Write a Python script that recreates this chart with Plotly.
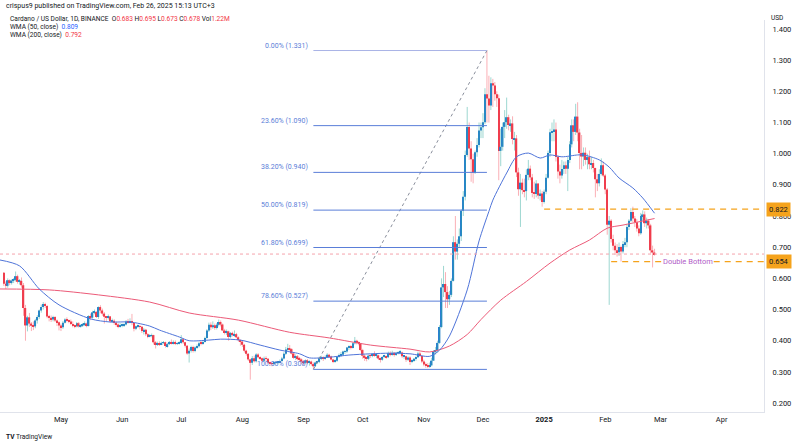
import pandas as pd
import plotly.graph_objects as go

# ADA/USD daily candles (Binance), 2 Apr 2024 -> 26 Feb 2025
FIRST_OPEN = 0.618

close_apr = [0.583, 0.576, 0.594, 0.585, 0.593, 0.595, 0.607, 0.589, 0.592, 0.578, 0.505, 0.449, 0.475, 0.455, 0.448,
             0.446, 0.465, 0.476, 0.497, 0.508, 0.518, 0.511, 0.478, 0.474, 0.468, 0.476, 0.465, 0.459, 0.449]
high_apr = [0.620, 0.590, 0.600, 0.597, 0.597, 0.601, 0.622, 0.612, 0.598, 0.603, 0.585, 0.515, 0.480, 0.489, 0.460,
            0.462, 0.470, 0.482, 0.500, 0.516, 0.524, 0.522, 0.515, 0.483, 0.481, 0.480, 0.479, 0.468, 0.462]
low_apr = [0.576, 0.566, 0.570, 0.578, 0.580, 0.585, 0.590, 0.583, 0.580, 0.570, 0.480, 0.400, 0.430, 0.444, 0.431,
           0.434, 0.440, 0.455, 0.470, 0.490, 0.500, 0.505, 0.472, 0.462, 0.460, 0.462, 0.460, 0.447, 0.433]

close_may = [0.443, 0.458, 0.468, 0.465, 0.462, 0.454, 0.448, 0.446, 0.456, 0.446, 0.448, 0.452, 0.455, 0.447, 0.479,
             0.474, 0.491, 0.492, 0.476, 0.508, 0.497, 0.487, 0.477, 0.473, 0.478, 0.462, 0.464, 0.458, 0.452, 0.447, 0.449]
high_may = [0.455, 0.463, 0.472, 0.475, 0.468, 0.468, 0.462, 0.452, 0.460, 0.460, 0.453, 0.457, 0.462, 0.458, 0.482,
            0.487, 0.496, 0.500, 0.495, 0.510, 0.514, 0.503, 0.492, 0.478, 0.484, 0.479, 0.471, 0.469, 0.462, 0.456, 0.456]
low_may = [0.431, 0.438, 0.455, 0.459, 0.456, 0.450, 0.443, 0.440, 0.443, 0.442, 0.442, 0.444, 0.447, 0.443, 0.446,
           0.466, 0.471, 0.485, 0.473, 0.470, 0.488, 0.480, 0.455, 0.462, 0.468, 0.458, 0.457, 0.451, 0.445, 0.440, 0.442]

close_jun = [0.449, 0.452, 0.462, 0.460, 0.463, 0.457, 0.438, 0.446, 0.447, 0.445, 0.431, 0.435, 0.421, 0.415, 0.416,
             0.418, 0.395, 0.389, 0.391, 0.389, 0.393, 0.395, 0.383, 0.389, 0.396, 0.392, 0.396, 0.390, 0.392, 0.393]
high_jun = [0.455, 0.456, 0.466, 0.470, 0.472, 0.486, 0.460, 0.449, 0.452, 0.451, 0.447, 0.441, 0.438, 0.424, 0.421,
            0.423, 0.419, 0.399, 0.397, 0.398, 0.397, 0.399, 0.397, 0.393, 0.399, 0.404, 0.401, 0.401, 0.395, 0.398]
low_jun = [0.443, 0.444, 0.449, 0.455, 0.456, 0.450, 0.430, 0.434, 0.441, 0.436, 0.425, 0.420, 0.415, 0.408, 0.411,
           0.411, 0.388, 0.375, 0.383, 0.383, 0.386, 0.389, 0.378, 0.378, 0.386, 0.388, 0.388, 0.386, 0.386, 0.388]

close_jul = [0.405, 0.395, 0.384, 0.359, 0.368, 0.380, 0.367, 0.378, 0.382, 0.392, 0.391, 0.396, 0.409, 0.433, 0.451,
             0.443, 0.450, 0.441, 0.451, 0.460, 0.452, 0.433, 0.427, 0.430, 0.412, 0.425, 0.418, 0.421, 0.411, 0.402, 0.397]
high_jul = [0.418, 0.408, 0.396, 0.386, 0.375, 0.384, 0.384, 0.382, 0.388, 0.397, 0.399, 0.400, 0.413, 0.437, 0.458,
            0.459, 0.462, 0.455, 0.456, 0.468, 0.465, 0.455, 0.438, 0.436, 0.432, 0.428, 0.429, 0.433, 0.425, 0.414, 0.404]
low_jul = [0.390, 0.390, 0.378, 0.355, 0.330, 0.362, 0.362, 0.363, 0.374, 0.378, 0.385, 0.387, 0.394, 0.406, 0.428,
           0.434, 0.438, 0.435, 0.436, 0.446, 0.446, 0.431, 0.420, 0.418, 0.400, 0.408, 0.414, 0.412, 0.408, 0.397, 0.384]

close_aug = [0.387, 0.368, 0.358, 0.340, 0.329, 0.344, 0.334, 0.356, 0.347, 0.344, 0.336, 0.343, 0.342, 0.329, 0.327,
             0.326, 0.329, 0.330, 0.331, 0.335, 0.343, 0.358, 0.372, 0.376, 0.373, 0.359, 0.345, 0.350, 0.341, 0.340, 0.333]
high_aug = [0.400, 0.390, 0.371, 0.360, 0.342, 0.351, 0.352, 0.360, 0.360, 0.350, 0.346, 0.349, 0.350, 0.344, 0.333,
            0.331, 0.334, 0.334, 0.335, 0.340, 0.348, 0.363, 0.380, 0.390, 0.386, 0.376, 0.364, 0.356, 0.354, 0.348, 0.343]
low_aug = [0.380, 0.362, 0.352, 0.335, 0.275, 0.322, 0.330, 0.330, 0.343, 0.338, 0.330, 0.332, 0.335, 0.325, 0.320,
           0.318, 0.322, 0.325, 0.324, 0.327, 0.333, 0.340, 0.354, 0.366, 0.368, 0.356, 0.341, 0.338, 0.337, 0.333, 0.325]

close_sep = [0.329, 0.337, 0.329, 0.333, 0.325, 0.318, 0.330, 0.332, 0.344, 0.347, 0.343, 0.348, 0.355, 0.349, 0.340,
             0.332, 0.336, 0.348, 0.353, 0.355, 0.365, 0.365, 0.378, 0.381, 0.377, 0.392, 0.400, 0.394, 0.392, 0.370]
high_sep = [0.338, 0.340, 0.341, 0.337, 0.336, 0.330, 0.333, 0.336, 0.349, 0.352, 0.350, 0.353, 0.360, 0.358, 0.352,
            0.342, 0.340, 0.351, 0.359, 0.364, 0.368, 0.370, 0.380, 0.385, 0.386, 0.395, 0.412, 0.403, 0.398, 0.393]
low_sep = [0.322, 0.325, 0.325, 0.320, 0.320, 0.308, 0.316, 0.325, 0.328, 0.338, 0.335, 0.339, 0.345, 0.345, 0.337,
           0.328, 0.329, 0.332, 0.345, 0.348, 0.353, 0.358, 0.361, 0.370, 0.372, 0.375, 0.388, 0.388, 0.385, 0.366]

close_oct = [0.352, 0.345, 0.342, 0.352, 0.351, 0.355, 0.353, 0.353, 0.343, 0.339, 0.348, 0.351, 0.347, 0.360, 0.357,
             0.361, 0.354, 0.361, 0.362, 0.362, 0.350, 0.350, 0.339, 0.346, 0.332, 0.336, 0.342, 0.347, 0.359, 0.351, 0.333]
high_oct = [0.374, 0.356, 0.348, 0.355, 0.356, 0.358, 0.366, 0.358, 0.355, 0.346, 0.350, 0.355, 0.352, 0.365, 0.366,
            0.368, 0.364, 0.364, 0.366, 0.370, 0.365, 0.354, 0.352, 0.350, 0.350, 0.340, 0.345, 0.350, 0.365, 0.364, 0.352]
low_oct = [0.342, 0.335, 0.334, 0.338, 0.345, 0.347, 0.349, 0.344, 0.338, 0.330, 0.336, 0.345, 0.342, 0.345, 0.350,
           0.352, 0.349, 0.351, 0.356, 0.356, 0.345, 0.342, 0.332, 0.335, 0.322, 0.328, 0.332, 0.336, 0.345, 0.348, 0.328]

close_nov = [0.324, 0.320, 0.317, 0.321, 0.336, 0.366, 0.369, 0.393, 0.444, 0.571, 0.582, 0.556, 0.533, 0.547, 0.592,
             0.716, 0.686, 0.711, 0.735, 0.817, 0.862, 0.996, 1.086, 1.017, 0.982, 0.939, 1.005, 1.028, 1.074, 1.085]
high_nov = [0.339, 0.330, 0.328, 0.330, 0.345, 0.370, 0.380, 0.400, 0.450, 0.600, 0.640, 0.620, 0.575, 0.560, 0.600,
            0.735, 0.800, 0.725, 0.760, 0.822, 0.880, 1.010, 1.150, 1.100, 1.040, 1.000, 1.010, 1.050, 1.100, 1.100]
low_nov = [0.318, 0.313, 0.312, 0.313, 0.318, 0.335, 0.355, 0.362, 0.390, 0.440, 0.540, 0.505, 0.505, 0.515, 0.540,
           0.590, 0.660, 0.660, 0.700, 0.720, 0.800, 0.850, 0.990, 0.980, 0.910, 0.905, 0.935, 0.990, 1.020, 1.050]

close_dec = [1.101, 1.191, 1.177, 1.155, 1.226, 1.219, 1.191, 1.178, 1.009, 1.022, 1.086, 1.101, 1.117, 1.092, 1.097,
             1.047, 1.049, 0.940, 0.886, 0.907, 0.883, 0.880, 0.932, 0.952, 0.924, 0.874, 0.871, 0.904, 0.866, 0.872, 0.845]
high_dec = [1.130, 1.210, 1.331, 1.250, 1.245, 1.240, 1.230, 1.200, 1.190, 1.080, 1.100, 1.140, 1.180, 1.125, 1.110,
            1.120, 1.070, 1.060, 0.955, 0.935, 0.920, 0.920, 0.950, 0.980, 0.962, 0.935, 0.910, 0.915, 0.905, 0.885, 0.880]
low_dec = [1.050, 1.095, 1.100, 1.100, 1.140, 1.150, 1.170, 1.150, 0.915, 0.960, 1.010, 1.050, 1.080, 1.075, 1.070,
           1.030, 1.010, 0.925, 0.865, 0.765, 0.870, 0.860, 0.850, 0.915, 0.915, 0.860, 0.855, 0.860, 0.855, 0.850, 0.830]

close_jan = [0.878, 0.923, 1.002, 1.069, 1.072, 1.078, 0.989, 0.943, 0.930, 0.951, 0.963, 0.952, 0.980, 1.030, 1.091,
             1.070, 1.119, 1.068, 1.002, 0.991, 1.003, 0.980, 0.989, 0.966, 0.970, 0.954, 0.918, 0.905, 0.935, 0.963, 0.930]
high_jan = [0.885, 0.935, 1.010, 1.080, 1.100, 1.110, 1.100, 0.995, 0.965, 0.980, 0.975, 0.975, 0.990, 1.040, 1.110,
            1.110, 1.160, 1.165, 1.080, 1.060, 1.020, 1.020, 1.000, 1.010, 0.990, 0.980, 0.955, 0.935, 0.950, 0.985, 0.975]
low_jan = [0.840, 0.870, 0.920, 0.990, 1.040, 1.040, 0.975, 0.920, 0.905, 0.920, 0.935, 0.935, 0.880, 0.970, 1.020,
           1.040, 1.060, 1.040, 0.950, 0.950, 0.960, 0.965, 0.950, 0.950, 0.950, 0.940, 0.860, 0.880, 0.895, 0.930, 0.925]

close_feb = [0.885, 0.772, 0.785, 0.726, 0.705, 0.690, 0.684, 0.701, 0.686, 0.710, 0.716, 0.765, 0.785, 0.813, 0.792,
             0.780, 0.760, 0.745, 0.800, 0.805, 0.777, 0.785, 0.770, 0.690, 0.683, 0.678]
high_feb = [0.935, 0.890, 0.800, 0.790, 0.740, 0.715, 0.710, 0.715, 0.705, 0.720, 0.730, 0.775, 0.790, 0.825, 0.830,
            0.800, 0.790, 0.770, 0.810, 0.818, 0.815, 0.795, 0.790, 0.775, 0.705, 0.695]
low_feb = [0.870, 0.740, 0.515, 0.715, 0.690, 0.675, 0.670, 0.672, 0.654, 0.680, 0.700, 0.700, 0.755, 0.780, 0.780,
           0.765, 0.750, 0.735, 0.740, 0.785, 0.765, 0.760, 0.760, 0.680, 0.635, 0.673]

# moving averages, sampled off the chart
wma50_dates = ["2024-03-31", "2024-04-10", "2024-04-20", "2024-04-30", "2024-05-16", "2024-05-26", "2024-06-05",
               "2024-06-15", "2024-06-20", "2024-06-30", "2024-07-05", "2024-07-15", "2024-07-21", "2024-07-31",
               "2024-08-10", "2024-08-20", "2024-08-30", "2024-09-04", "2024-09-14", "2024-09-24", "2024-10-05",
               "2024-10-15", "2024-10-25", "2024-11-04", "2024-11-09", "2024-11-14", "2024-11-23", "2024-11-29",
               "2024-12-04", "2024-12-06", "2024-12-13", "2024-12-18", "2024-12-24", "2024-12-30", "2025-01-04",
               "2025-01-10", "2025-01-18", "2025-01-21", "2025-01-29", "2025-02-03", "2025-02-08", "2025-02-15",
               "2025-02-20", "2025-02-26"]
wma50_vals = [0.659, 0.640, 0.566, 0.515, 0.470, 0.460, 0.460, 0.447, 0.434, 0.412, 0.400, 0.402, 0.405, 0.402,
              0.386, 0.370, 0.358, 0.345, 0.347, 0.354, 0.358, 0.360, 0.358, 0.350, 0.370, 0.415, 0.563, 0.720,
              0.815, 0.851, 0.938, 0.990, 1.002, 0.986, 0.996, 0.990, 0.996, 0.996, 0.980, 0.957, 0.922, 0.890,
              0.858, 0.809]

wma200_dates = ["2024-03-31", "2024-04-25", "2024-05-20", "2024-06-15", "2024-07-05", "2024-07-30", "2024-08-25",
                "2024-09-14", "2024-10-05", "2024-10-25", "2024-11-04", "2024-11-14", "2024-11-23", "2024-11-30",
                "2024-12-10", "2024-12-23", "2025-01-04", "2025-01-14", "2025-01-24", "2025-02-02", "2025-02-10",
                "2025-02-26"]
wma200_vals = [0.566, 0.563, 0.547, 0.524, 0.489, 0.466, 0.427, 0.409, 0.386, 0.373, 0.364, 0.383, 0.420, 0.468,
               0.530, 0.590, 0.649, 0.691, 0.723, 0.761, 0.771, 0.792]

# fibonacci retracement, Sep low -> Dec high
FIB_PCT = ["0.00%", "23.60%", "38.20%", "50.00%", "61.80%", "78.60%", "100.00%"]
FIB_LEVELS = [1.331, 1.090, 0.940, 0.819, 0.699, 0.527, 0.308]
FIB_START, FIB_END = "2024-09-06", "2024-12-03"

RESISTANCE = 0.822
SUPPORT = 0.654
LAST_PRICE = 0.678

MONTH_TICKS = ["2024-05-01", "2024-06-01", "2024-07-01", "2024-08-01", "2024-09-01", "2024-10-01", "2024-11-01",
               "2024-12-01", "2025-01-01", "2025-02-01", "2025-03-01", "2025-04-01"]
MONTH_LABELS = ["May", "Jun", "Jul", "Aug", "Sep", "Oct", "Nov", "Dec", "<b>2025</b>", "Feb", "Mar", "Apr"]
PRICE_TICKS = [0.2, 0.3, 0.4, 0.5, 0.6, 0.7, 0.8, 0.9, 1.0, 1.1, 1.2, 1.3, 1.4]

X_START, X_END = "2024-03-31 02:00", "2025-04-22 12:00"
Y_RANGE = [0.1713, 1.4289]

UP, DOWN = "#2b7fd2", "#ef4050"
UP_WICK, DOWN_WICK = "rgba(38,166,154,0.45)", "rgba(242,54,69,0.40)"
FIB_COLOR = "#5a7ed8"
ORANGE = "#f5a31c"

closes = close_apr + close_may + close_jun + close_jul + close_aug + close_sep + close_oct + close_nov + close_dec + close_jan + close_feb
highs = high_apr + high_may + high_jun + high_jul + high_aug + high_sep + high_oct + high_nov + high_dec + high_jan + high_feb
lows = low_apr + low_may + low_jun + low_jul + low_aug + low_sep + low_oct + low_nov + low_dec + low_jan + low_feb
dates = pd.date_range("2024-04-02", periods=len(closes), freq="D")
opens = [FIRST_OPEN] + closes[:-1]

# plot-area pixel helpers (plot spans x 0..764, y 20..412)
PLOT_W, TOP, BOTTOM = 764, 20, 412


def px(x):
    return x / PLOT_W


def py(y):
    return (BOTTOM - y) / (BOTTOM - TOP)


fig = go.Figure()

# wicks
for is_up, col in ((True, UP_WICK), (False, DOWN_WICK)):
    wx, wy = [], []
    for d, o, h, l, c in zip(dates, opens, highs, lows, closes):
        if (c >= o) != is_up:
            continue
        wx += [d, d, None]
        wy += [min(l, o, c), max(h, o, c), None]
    fig.add_trace(go.Scatter(x=wx, y=wy, mode="lines", line=dict(color=col, width=1), hoverinfo="skip"))

# bodies
base = [min(o, c) for o, c in zip(opens, closes)]
height = [max(abs(c - o), 0.002) for o, c in zip(opens, closes)]
colors = [UP if c >= o else DOWN for o, c in zip(opens, closes)]
fig.add_trace(go.Bar(x=dates, y=height, base=base, width=0.75 * 86400000,
                     marker=dict(color=colors, line=dict(width=0)), hoverinfo="skip"))

# moving averages
fig.add_trace(go.Scatter(x=wma200_dates, y=wma200_vals, mode="lines",
                         line=dict(color="#ec5a78", width=1, shape="spline", smoothing=0.8)))
fig.add_trace(go.Scatter(x=wma50_dates, y=wma50_vals, mode="lines",
                         line=dict(color="#4f74d9", width=1, shape="spline", smoothing=0.8)))

shapes = []
annotations = []

# current price line
shapes.append(dict(type="line", xref="paper", x0=0, x1=1, yref="y", y0=LAST_PRICE, y1=LAST_PRICE,
                   line=dict(color="#f5a3ab", width=1, dash="dot")))

# fib retracement
shapes.append(dict(type="line", xref="x", yref="y", x0=FIB_START, y0=FIB_LEVELS[-1], x1=FIB_END, y1=FIB_LEVELS[0],
                   line=dict(color="#8a8f9c", width=1, dash="dot")))
for i, (pct, lvl) in enumerate(zip(FIB_PCT, FIB_LEVELS)):
    shapes.append(dict(type="line", xref="x", yref="y", x0=FIB_START, x1=FIB_END, y0=lvl, y1=lvl,
                       line=dict(color="#a9b3e6" if i == 0 else FIB_COLOR, width=1)))
    annotations.append(dict(x=FIB_START, y=lvl, xref="x", yref="y", xanchor="right", yanchor="middle",
                            xshift=-3, yshift=5, showarrow=False, text=f"{pct} ({lvl:.3f})",
                            font=dict(size=7, color=FIB_COLOR)))

# horizontal levels
shapes.append(dict(type="line", xref="x", yref="y", x0="2025-01-01", x1=X_END, y0=RESISTANCE, y1=RESISTANCE,
                   line=dict(color=ORANGE, width=1.2, dash="6px,5px")))
shapes.append(dict(type="line", xref="x", yref="y", x0="2025-02-04", x1="2025-03-03", y0=SUPPORT, y1=SUPPORT,
                   line=dict(color=ORANGE, width=1.2, dash="6px,5px")))
shapes.append(dict(type="line", xref="x", yref="y", x0="2025-03-28", x1=X_END, y0=SUPPORT, y1=SUPPORT,
                   line=dict(color=ORANGE, width=1.2, dash="6px,5px")))
annotations.append(dict(x="2025-03-15", y=SUPPORT, xref="x", yref="y", showarrow=False, text="Double Bottom",
                        font=dict(size=7.5, color="#b05cc8"), yanchor="middle"))
for lvl in (RESISTANCE, SUPPORT):
    annotations.append(dict(x=1, y=lvl, xref="paper", yref="y", xanchor="left", yanchor="middle", xshift=2,
                            showarrow=False, text=f"{lvl:.3f}", bgcolor=ORANGE, borderpad=2,
                            font=dict(size=7.5, color="#131722")))

# header text
RED = "#f23645"
ohlc = ("Cardano / US Dollar, 1D, BINANCE&nbsp;&nbsp;"
        f"O<span style='color:{RED}'>0.683</span> H<span style='color:{RED}'>0.695</span> "
        f"L<span style='color:{RED}'>0.673</span> C<span style='color:{RED}'>0.678</span> "
        f"Vol<span style='color:{RED}'>1.22M</span>")
header = [
    (4, 6, "crispus9 published on TradingView.com, Feb 26, 2025 15:13 UTC+3", 7),
    (8, 19, ohlc, 6.6),
    (8, 27, "WMA (50, close)&nbsp;&nbsp;<span style='color:#2962ff'>0.809</span>", 6.6),
    (8, 35, "WMA (200, close)&nbsp;&nbsp;<span style='color:#f23645'>0.792</span>", 6.6),
    (4, 437, "<b>TV</b> TradingView", 6.6),
]
for x, y, t, fs in header:
    annotations.append(dict(x=px(x), y=py(y), xref="paper", yref="paper", xanchor="left", yanchor="middle",
                            showarrow=False, text=t, font=dict(size=fs, color="#131722")))
annotations.append(dict(x=px(777), y=py(18), xref="paper", yref="paper", xanchor="center", yanchor="middle",
                        showarrow=False, text="USD", font=dict(size=6.5, color="#131722")))

fig.update_layout(
    width=800, height=445,
    margin=dict(l=0, r=800 - PLOT_W, t=TOP, b=445 - BOTTOM),
    plot_bgcolor="white", paper_bgcolor="white",
    showlegend=False, hovermode=False, barmode="overlay",
    font=dict(family="Roboto, Arial, sans-serif", size=7.5, color="#131722"),
    shapes=shapes, annotations=annotations,
)
fig.update_xaxes(type="date", range=[X_START, X_END], tickvals=MONTH_TICKS, ticktext=MONTH_LABELS,
                 showgrid=False, zeroline=False, ticks="", showline=True, linecolor="#e0e3eb",
                 tickfont=dict(size=7.5))
fig.update_yaxes(side="right", range=Y_RANGE, tickvals=PRICE_TICKS, ticktext=[f"{v:.3f}" for v in PRICE_TICKS],
                 showgrid=False, zeroline=False, ticks="", showline=True, linecolor="#e0e3eb",
                 ticklabelstandoff=6, tickfont=dict(size=7.5))

# drop the default page margin so the 800x445 figure sits flush in the window
fig.write_html("out.html", config={"displayModeBar": False},
               post_script="document.body.style.margin='0px';")
